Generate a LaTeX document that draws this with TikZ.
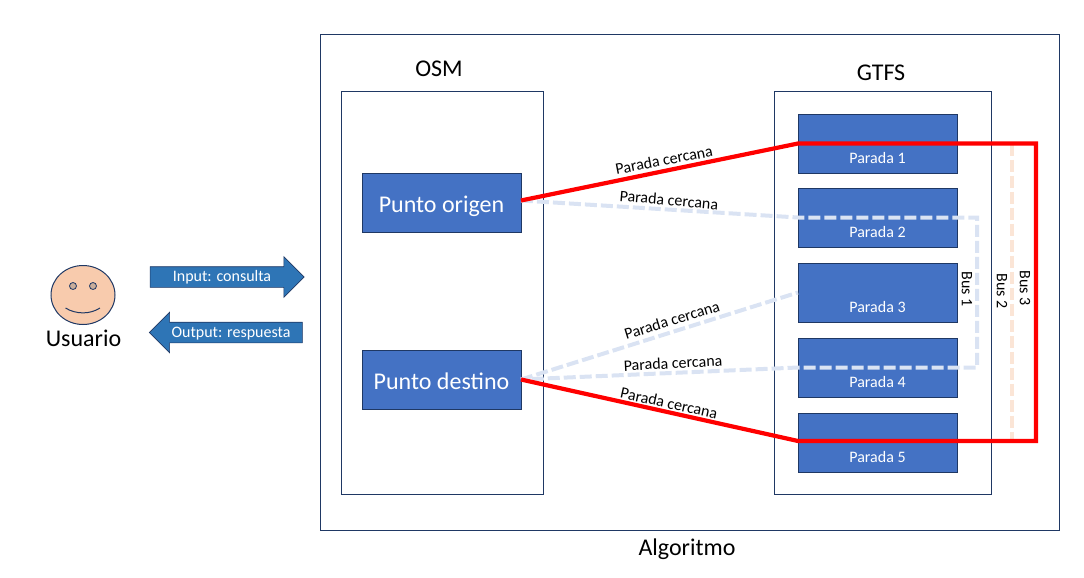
\documentclass[tikz,border=0pt]{standalone}
\usepackage{fontspec}
\setmainfont{Carlito}
\usetikzlibrary{shapes.arrows,shapes.geometric}
\definecolor{boxblue}{HTML}{4472C4}
\definecolor{navy}{HTML}{1F3864}
\definecolor{arrowblue}{HTML}{2E75B6}
\definecolor{lightblue}{HTML}{DAE3F3}
\definecolor{peach}{HTML}{FBE5D6}
\definecolor{skin}{HTML}{F8CBAD}
\tikzset{
  frame/.style={draw=navy,line width=1pt,fill=none,rectangle,inner sep=0pt,outer sep=0pt,anchor=center},
  parada/.style={draw=navy,line width=1pt,fill=boxblue,rectangle,minimum width=159pt,minimum height=59pt,inner sep=0pt,outer sep=0pt,text=white,font=\fontsize{16pt}{18pt}\selectfont},
  punto/.style={parada,font=\fontsize{24pt}{28pt}\selectfont},
  title/.style={font=\fontsize{24pt}{28pt}\selectfont,text=black,inner sep=0pt},
  near/.style={font=\fontsize{16pt}{18pt}\selectfont,text=black,inner sep=0pt},
  bus/.style={font=\fontsize{16pt}{18pt}\selectfont,text=black,inner sep=0pt,rotate=-90},
  flow/.style={single arrow,draw=navy,line width=0.6pt,fill=arrowblue,text=white,font=\fontsize{16pt}{18pt}\selectfont,
    minimum height=154pt,single arrow head extend=10pt,single arrow head indent=0pt,
    text height=11pt,text depth=2pt,inner ysep=3.5pt,inner xsep=0pt,outer sep=0pt},
  redline/.style={draw=red,line width=4.2pt,line join=miter},
  blueline/.style={draw=lightblue,line width=4pt,dash pattern=on 12pt off 4pt},
  peachline/.style={draw=peach,line width=4pt,dash pattern=on 12pt off 4pt},
}
\newcommand{\low}[1]{\smash{\raisebox{-20pt}{#1}}}
\newcommand{\midtext}[1]{\smash{\raisebox{-9.5pt}{#1}}}
\begin{document}
\begin{tikzpicture}[x=1pt,y=-1pt]
\useasboundingbox (0,0) rectangle (1084,578);
% frames
\node[frame,minimum width=739pt,minimum height=495pt] (algo) at (689.5,282.5) {};
\node[frame,minimum width=202pt,minimum height=403pt] (osm) at (442,292.5) {};
\node[frame,minimum width=217pt,minimum height=403pt] (gtfs) at (882.5,292.5) {};
% boxes
\node[punto] (po) at (441.5,202.5) {\midtext{Punto origen}};
\node[punto] (pd) at (441.5,379.5) {\midtext{Punto destino}};
\node[parada] (p1) at (877.5,143.5) {\low{Parada 1}};
\node[parada] (p2) at (877.5,217.5) {\low{Parada 2}};
\node[parada] (p3) at (877.5,292.5) {\low{Parada 3}};
\node[parada] (p4) at (877.5,367.5) {\low{Parada 4}};
\node[parada] (p5) at (877.5,442.5) {\low{Parada 5}};
% free corners
\coordinate (ao) at ([yshift=2pt]po.east);
\coordinate (ad) at (pd.east);
\coordinate (b1a) at (977,217.5);
\coordinate (b1b) at (977,367.5);
\coordinate (b2a) at (1012,143.5);
\coordinate (b2b) at (1012,441);
\coordinate (b3a) at (1036,143.5);
\coordinate (b3b) at (1036,441);
% routes
\draw[peachline] (b2a) -- (b2b);
\draw[blueline] (ao) -- (p2.west) -- (b1a) -- (b1b) -- (p4.west) -- (ad);
\draw[blueline] (ad) -- (p3.west);
\draw[redline] (ao) -- (p1.west) -- (b3a) -- (b3b) -- ([yshift=1.5pt]p5.west) -- (ad);
% labels
\node[near,rotate=11] (n1) at (664,160) {Parada cercana};
\node[near,rotate=-5] (n2) at (669,200) {Parada cercana};
\node[near,rotate=17] (n3) at (672,320) {Parada cercana};
\node[near,rotate=3] (n4) at (673,363) {Parada cercana};
\node[near,rotate=-12.5] (n5) at (669,403) {Parada cercana};
\node[bus] (b1) at (967,289) {Bus 1};
\node[bus] (b2) at (1002,291) {Bus 2};
\node[bus] (b3) at (1025,288) {Bus 3};
\node[title] (tosm) at (439,69) {OSM};
\node[title] (tgtfs) at (881,73) {GTFS};
\node[title] (talgo) at (687,549) {Algoritmo};
% user
\node[draw=navy,line width=1pt,fill=skin,ellipse,minimum width=64pt,minimum height=59pt,inner sep=0pt,outer sep=0pt] (face) at (83,295) {};
\node[draw=navy,line width=0.8pt,fill=skin!60!gray,circle,minimum size=7pt,inner sep=0pt] (eyeL) at (73,286) {};
\node[draw=navy,line width=0.8pt,fill=skin!60!gray,circle,minimum size=7pt,inner sep=0pt] (eyeR) at (93,286) {};
\coordinate (smileL) at (65.5,308);
\coordinate (smileR) at (100,308);
\draw[navy,line width=1pt] (smileL) .. controls (76,314.5) and (90,314.5) .. (smileR);
\node[title] (user) at (83.5,338) {Usuario};
% flows
\node[flow] (inp) at (222,277) {Input: consulta};
\node[flow,shape border rotate=180,minimum height=153pt] (outp) at (231,332.5) {Output: respuesta};
\end{tikzpicture}
\end{document}
